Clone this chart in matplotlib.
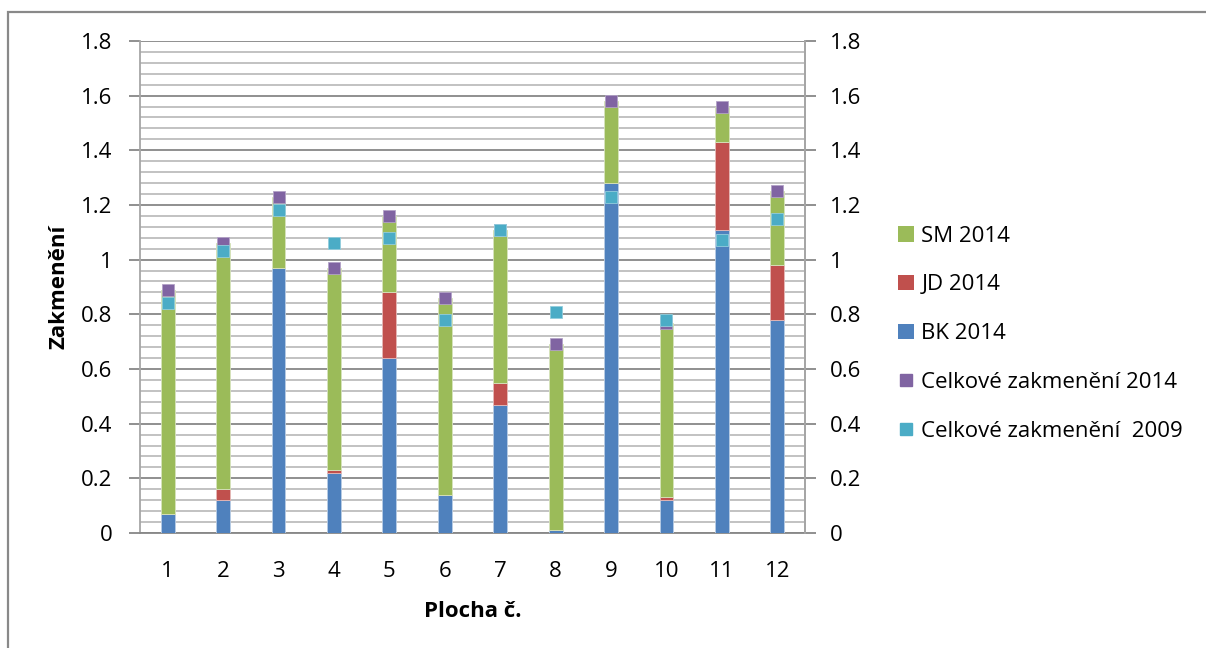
import numpy as np
import matplotlib
matplotlib.use("Agg")
import matplotlib.pyplot as plt
from matplotlib.patches import Patch, Rectangle
from matplotlib.lines import Line2D
from matplotlib.ticker import MultipleLocator

plt.rcParams['font.family'] = ['Open Sans', 'DejaVu Sans']

# plot numbers and species volumes
plochy = ['1', '2', '3', '4', '5', '6', '7', '8', '9', '10', '11', '12']
bk_2014 = [0.07, 0.12, 0.97, 0.22, 0.64, 0.14, 0.47, 0.01, 1.28, 0.12, 1.11, 0.78]
jd_2014 = [0.00, 0.04, 0.00, 0.01, 0.24, 0.00, 0.08, 0.00, 0.00, 0.01, 0.32, 0.20]
sm_2014 = [0.82, 0.90, 0.26, 0.74, 0.28, 0.72, 0.56, 0.68, 0.30, 0.64, 0.13, 0.27]
celk_2014 = [0.89, 1.06, 1.23, 0.97, 1.16, 0.86, 1.11, 0.69, 1.58, 0.77, 1.56, 1.25]
celk_2009 = [0.84, 1.03, 1.18, 1.06, 1.08, 0.78, 1.11, 0.81, 1.23, 0.78, 1.07, 1.15]

c_bk = "#4F81BD"
c_jd = "#C0504D"
c_sm = "#9BBB59"
c_14 = "#8064A2"
c_09 = "#4BACC6"

FS = 16

fig = plt.figure(figsize=(12.06, 6.48), dpi=100)
ax = fig.add_axes([0.1161, 0.1775, 0.5514, 0.7593])

x = np.arange(1, len(plochy) + 1)
w = 0.25
bk = np.array(bk_2014)
jd = np.array(jd_2014)
sm = np.array(sm_2014)

ax.bar(x, bk, w, color=c_bk, edgecolor="#b9cde5", linewidth=0.6, zorder=3)
ax.bar(x, jd, w, bottom=bk, color=c_jd, edgecolor="#e6b9b8", linewidth=0.6, zorder=3)
ax.bar(x, sm, w, bottom=bk + jd, color=c_sm, edgecolor="#d7e4bd", linewidth=0.6, zorder=3)

ax.plot(x, celk_2014, ls="none", marker="s", ms=9, color=c_14,
        mec="#b3a2c7", mew=0.6, zorder=4)
ax.plot(x, celk_2009, ls="none", marker="s", ms=9, color=c_09,
        mec="#93cddd", mew=0.6, zorder=5)

ax.set_xlim(0.5, 12.5)
ax.set_ylim(0, 1.8)
ax.set_xticks(x)
ax.set_xticklabels(plochy)
ax.yaxis.set_major_locator(MultipleLocator(0.2))
ax.yaxis.set_minor_locator(MultipleLocator(0.04))
ax.yaxis.set_major_formatter(plt.FuncFormatter(lambda v, p: f"{v:g}"))

ax.grid(axis="y", which="major", color="#878787", lw=1.3, zorder=0)
ax.grid(axis="y", which="minor", color="#bdbdbd", lw=1.3, zorder=0)

ax.spines["top"].set_visible(False)
for s in ["left", "right", "bottom"]:
    ax.spines[s].set_color("#a6a6a6")
    ax.spines[s].set_linewidth(1.3)
ax.spines["bottom"].set_color("#878787")

ax.tick_params(axis="x", length=0, pad=20, labelsize=FS)
ax.tick_params(axis="y", which="major", length=8, width=1.3, color="#878787",
               labelsize=FS, pad=12)
ax.tick_params(axis="y", which="minor", length=0)

ax2 = ax.twinx()
ax2.set_ylim(0, 1.8)
ax2.yaxis.set_major_locator(MultipleLocator(0.2))
ax2.yaxis.set_major_formatter(plt.FuncFormatter(lambda v, p: f"{v:g}"))
ax2.tick_params(axis="y", length=8, width=1.3, color="#878787", labelsize=FS, pad=10)
for s in ["top", "left", "bottom"]:
    ax2.spines[s].set_visible(False)
ax2.spines["right"].set_color("#a6a6a6")
ax2.spines["right"].set_linewidth(1.3)

ax.set_ylabel("Zakmenění", fontsize=FS, fontweight="bold", labelpad=8)
ax.set_xlabel("Plocha č.", fontsize=FS, fontweight="bold", labelpad=14)

handles = [
    Patch(facecolor=c_sm, label="SM 2014"),
    Patch(facecolor=c_jd, label="JD 2014"),
    Patch(facecolor=c_bk, label="BK 2014"),
    Line2D([], [], ls="none", marker="s", ms=8, color=c_14, label="Celkové zakmenění 2014"),
    Line2D([], [], ls="none", marker="s", ms=8, color=c_09, label="Celkové zakmenění  2009"),
]
fig.legend(handles=handles, loc="center left", bbox_to_anchor=(0.728, 0.485),
           frameon=False, fontsize=FS, handlelength=0.7, handleheight=0.7,
           handletextpad=0.35, labelspacing=1.25)

# chart area frame
fig.patches.append(Rectangle((8 / 1206, -0.05), 1.1, 1 - 12 / 648 + 0.05,
                             transform=fig.transFigure, fill=False,
                             edgecolor="#898989", lw=1.6))

fig.savefig("out.png", dpi=100)
